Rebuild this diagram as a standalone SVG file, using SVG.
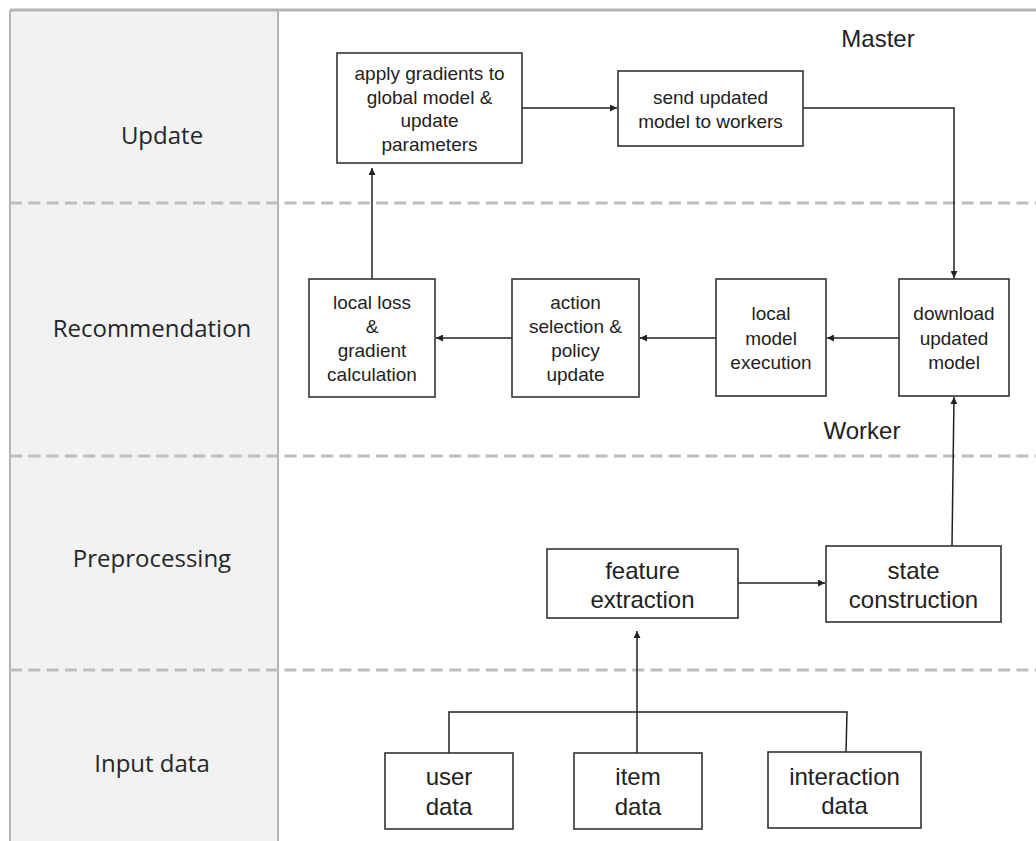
<svg xmlns="http://www.w3.org/2000/svg" width="1036" height="841" viewBox="0 0 1036 841">
<defs>
<marker id="ah" viewBox="0 0 10 10" refX="10" refY="5" markerWidth="7" markerHeight="7" markerUnits="userSpaceOnUse" orient="auto">
<path d="M0,0 L10,5 L0,10 z" fill="#222"/>
</marker>
<style>
.lane{font-family:"Open Sans","Noto Sans",sans-serif;font-size:24px;fill:#262626;text-anchor:middle}
.box{fill:#fff;stroke:#333;stroke-width:1.6}
.t{font-family:"Liberation Sans",Arial,sans-serif;font-size:19px;fill:#222;text-anchor:middle}
.tl{font-family:"Liberation Sans",Arial,sans-serif;font-size:24px;fill:#222;text-anchor:middle}
.dash{stroke:#bdbdbd;stroke-width:3;stroke-dasharray:12 6.3;fill:none}
.c{stroke:#222;stroke-width:1.5;fill:none}
.ca{stroke:#222;stroke-width:1.5;fill:none;marker-end:url(#ah)}
</style>
</defs>
<rect x="0" y="0" width="1036" height="841" fill="#fff"/>
<g id="lanes">
<rect x="10" y="10" width="268" height="841" fill="#f2f2f2"/>
<line x1="10" y1="10" x2="1036" y2="10" stroke="#b4b4b4" stroke-width="3"/>
<line x1="10" y1="10" x2="10" y2="841" stroke="#b4b4b4" stroke-width="2"/>
<line x1="278" y1="10" x2="278" y2="841" stroke="#b4b4b4" stroke-width="2"/>
<line class="dash" x1="10" y1="203" x2="1036" y2="203"/>
<line class="dash" x1="10" y1="456" x2="1036" y2="456"/>
<line class="dash" x1="10" y1="670" x2="1036" y2="670"/>
<text class="lane" x="162" y="144">Update</text>
<text class="lane" x="152" y="337">Recommendation</text>
<text class="lane" x="152" y="567">Preprocessing</text>
<text class="lane" x="152" y="772">Input data</text>
<text class="tl" x="878" y="47">Master</text>
<text class="tl" x="862" y="439">Worker</text>
</g>
<g id="connectors">
<line class="ca" x1="372" y1="279" x2="372" y2="168"/>
<line class="ca" x1="522" y1="108" x2="617" y2="108"/>
<polyline class="ca" points="803,108 954,108 954,278"/>
<line class="ca" x1="899" y1="338" x2="827" y2="338"/>
<line class="ca" x1="716" y1="338" x2="640" y2="338"/>
<line class="ca" x1="512" y1="338" x2="436" y2="338"/>
<line class="ca" x1="952" y1="546" x2="954" y2="397"/>
<line class="ca" x1="738" y1="583" x2="825" y2="583"/>
<line class="ca" x1="637" y1="753" x2="637" y2="631"/>
<polyline class="c" points="449,753 449,712 847,712 846,753"/>
</g>
<g id="apply">
<rect class="box" x="337" y="53" width="185" height="110"/>
<text class="t" x="429.5" y="80">apply gradients to</text>
<text class="t" x="429.5" y="103.5">global model &amp;</text>
<text class="t" x="429.5" y="127">update</text>
<text class="t" x="429.5" y="150.5">parameters</text>
</g>
<g id="send">
<rect class="box" x="618" y="71" width="185" height="75"/>
<text class="t" x="710.5" y="104">send updated</text>
<text class="t" x="710.5" y="127.5">model to workers</text>
</g>
<g id="localloss">
<rect class="box" x="309" y="279" width="126" height="118"/>
<text class="t" x="372" y="309">local loss</text>
<text class="t" x="372" y="333">&amp;</text>
<text class="t" x="372" y="357">gradient</text>
<text class="t" x="372" y="381">calculation</text>
</g>
<g id="action">
<rect class="box" x="512" y="279" width="127" height="118"/>
<text class="t" x="575.5" y="309">action</text>
<text class="t" x="575.5" y="333">selection &amp;</text>
<text class="t" x="575.5" y="357">policy</text>
<text class="t" x="575.5" y="381">update</text>
</g>
<g id="localmodel">
<rect class="box" x="716" y="279" width="110" height="117"/>
<text class="t" x="771" y="320">local</text>
<text class="t" x="771" y="344.5">model</text>
<text class="t" x="771" y="369">execution</text>
</g>
<g id="download">
<rect class="box" x="899" y="279" width="110" height="117"/>
<text class="t" x="954" y="320">download</text>
<text class="t" x="954" y="344.5">updated</text>
<text class="t" x="954" y="369">model</text>
</g>
<g id="feature">
<rect class="box" x="547" y="549" width="191" height="69"/>
<text class="tl" x="642.5" y="579">feature</text>
<text class="tl" x="642.5" y="608">extraction</text>
</g>
<g id="state">
<rect class="box" x="826" y="546" width="175" height="76"/>
<text class="tl" x="913.5" y="579">state</text>
<text class="tl" x="913.5" y="608">construction</text>
</g>
<g id="user">
<rect class="box" x="385" y="753" width="128" height="76"/>
<text class="tl" x="449" y="785">user</text>
<text class="tl" x="449" y="815">data</text>
</g>
<g id="item">
<rect class="box" x="574" y="753" width="128" height="76"/>
<text class="tl" x="638" y="785">item</text>
<text class="tl" x="638" y="815">data</text>
</g>
<g id="interaction">
<rect class="box" x="768" y="752" width="153" height="76"/>
<text class="tl" x="844.5" y="785">interaction</text>
<text class="tl" x="844.5" y="814">data</text>
</g>
</svg>
